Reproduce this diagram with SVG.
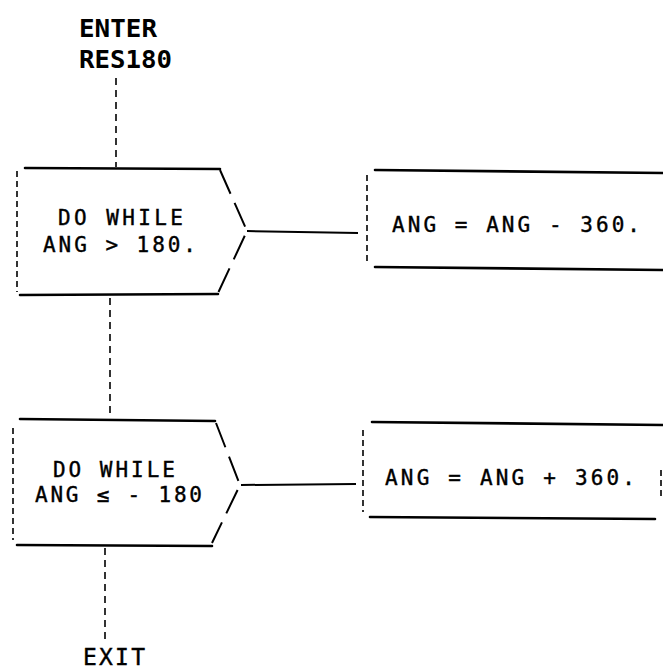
<svg xmlns="http://www.w3.org/2000/svg" width="663" height="672" viewBox="0 0 663 672">
<style>
.bg{fill:#fff}
.solid{stroke:#000;stroke-width:2.6;fill:none;stroke-linecap:round}
.side{stroke:#000;stroke-width:1.6;fill:none;stroke-dasharray:6,4}
.chev{stroke:#000;stroke-width:2;fill:none;stroke-dasharray:26,10}
.flow{stroke:#000;stroke-width:1.6;fill:none;stroke-dasharray:7,5}
.link{stroke:#000;stroke-width:2;fill:none}
text{font-family:"DejaVu Sans Mono","Liberation Mono",monospace;fill:#000}
.t{font-size:21px;stroke:#000;stroke-width:0.4}
.b{font-size:25px;font-weight:bold}
</style>
<rect class="bg" x="0" y="0" width="663" height="672"/>
<g id="connectors">
<line class="flow" x1="116" y1="78" x2="116" y2="167"/>
<line class="flow" x1="110" y1="298" x2="110" y2="418"/>
<line class="flow" x1="105" y1="548" x2="105" y2="640"/>
<line class="link" x1="247" y1="231" x2="358" y2="233"/>
<line class="link" x1="241" y1="485" x2="356" y2="484"/>
</g>
<g id="enter">
<text class="b" x="79" y="37" textLength="78" lengthAdjust="spacingAndGlyphs">ENTER</text>
<text class="b" x="79" y="68" textLength="93" lengthAdjust="spacingAndGlyphs">RES180</text>
</g>
<g id="loop1">
<line class="solid" x1="25" y1="168" x2="220" y2="169"/>
<line class="solid" x1="20" y1="295" x2="218" y2="294"/>
<line class="side" x1="17" y1="171" x2="17" y2="292"/>
<polyline class="chev" points="220,170 247,231 218,293"/>
<text class="t" x="58" y="225" textLength="125" lengthAdjust="spacing">DO WHILE</text>
<text class="t" x="43" y="252" textLength="153" lengthAdjust="spacing">ANG &gt; 180.</text>
</g>
<g id="body1">
<line class="solid" x1="375" y1="170" x2="663" y2="173"/>
<line class="solid" x1="375" y1="267" x2="663" y2="270"/>
<line class="side" x1="367" y1="175" x2="367" y2="261"/>
<text class="t" x="392" y="232" textLength="248" lengthAdjust="spacing">ANG = ANG - 360.</text>
</g>
<g id="loop2">
<line class="solid" x1="20" y1="419" x2="215" y2="421"/>
<line class="solid" x1="17" y1="545" x2="212" y2="546"/>
<line class="side" x1="13" y1="428" x2="13" y2="540"/>
<polyline class="chev" points="216,423 240,485 212,543"/>
<text class="t" x="53" y="477" textLength="122" lengthAdjust="spacing">DO WHILE</text>
<text class="t" x="35" y="502" textLength="167" lengthAdjust="spacing">ANG ≤ - 180</text>
</g>
<g id="body2">
<line class="solid" x1="372" y1="422" x2="663" y2="425"/>
<line class="solid" x1="370" y1="517" x2="655" y2="519"/>
<line class="side" x1="363" y1="430" x2="363" y2="512"/>
<line class="side" x1="661" y1="470" x2="661" y2="496"/>
<text class="t" x="385" y="485" textLength="250" lengthAdjust="spacing">ANG = ANG + 360.</text>
</g>
<g id="exit">
<text class="t" x="83" y="665" textLength="62" lengthAdjust="spacing" style="font-size:23px">EXIT</text>
</g>
</svg>
